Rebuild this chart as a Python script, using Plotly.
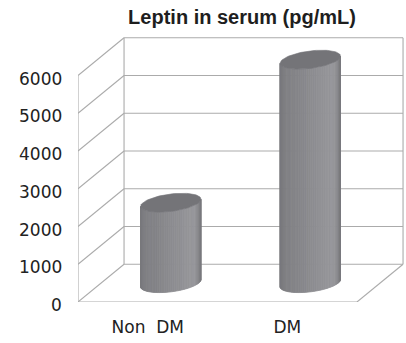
import numpy as np
import plotly.graph_objects as go

# Data
categories = ["Non\u00a0 DM", "DM"]
leptin = [2130, 5920]
tick_values = [0, 1000, 2000, 3000, 4000, 5000, 6000]
title_text = "Leptin in serum (pg/mL)"

# Oblique 3-D frame: depth vector in axis units
DEPTH_X = 0.33      # category units
DEPTH_Y = 1000      # value units
BAR_RX = 0.2        # cylinder radius across the category axis
BAR_DEPTH = 0.5     # cylinder diameter as a share of the full depth
FRAME = "#ababab"
N_STRIPS = 48
LABEL_FONT = dict(family="DejaVu Sans", size=17, color="#222222")

n_cat = len(categories)
ymax = tick_values[-1]

fig = go.Figure()


def seg(xs, ys):
    fig.add_trace(go.Scatter(x=xs, y=ys, mode="lines",
                             line=dict(color=FRAME, width=1.1),
                             hoverinfo="skip", showlegend=False, cliponaxis=False))


# back wall: gridlines and side edges
for v in tick_values:
    seg([DEPTH_X, n_cat + DEPTH_X], [v + DEPTH_Y, v + DEPTH_Y])
seg([DEPTH_X, DEPTH_X], [DEPTH_Y, ymax + DEPTH_Y])
seg([n_cat + DEPTH_X, n_cat + DEPTH_X], [DEPTH_Y, ymax + DEPTH_Y])
# left wall: diagonals and front edge
for v in tick_values:
    seg([0, DEPTH_X], [v, v + DEPTH_Y])
seg([0, 0], [0, ymax])
# floor: front and right edges
seg([0, n_cat], [0, 0])
seg([n_cat, n_cat + DEPTH_X], [0, DEPTH_Y])

# cylinder shading across the visible face (fraction -> grey level)
shade_u = [0.0, 0.12, 0.5, 0.8, 0.9, 0.96, 1.0]
shade_g = [120, 128, 139, 149, 150, 136, 121]

rdx = BAR_DEPTH / 2 * DEPTH_X
rdy = BAR_DEPTH / 2 * DEPTH_Y
theta_s = np.arctan2(rdx, BAR_RX)


def ring(cx, base, th):
    return (cx + BAR_RX * np.cos(th) + rdx * np.sin(th),
            base + rdy * np.sin(th))


for i, val in enumerate(leptin):
    cx = i + 0.5 + DEPTH_X / 2
    base = DEPTH_Y / 2
    top = val + DEPTH_Y / 2
    th = np.linspace(theta_s + np.pi, theta_s + 2 * np.pi, N_STRIPS + 1)
    xb, yb = ring(cx, base, th)
    xt, yt = ring(cx, top, th)
    xl, xr = xb.min(), xb.max()
    for k in range(N_STRIPS):
        um = ((xb[k] + xb[k + 1]) / 2 - xl) / (xr - xl)
        g = int(round(np.interp(um, shade_u, shade_g)))
        col = f"rgb({g},{g},{g + 4})"
        fig.add_trace(go.Scatter(
            x=[xb[k], xb[k + 1], xt[k + 1], xt[k], xb[k]],
            y=[yb[k], yb[k + 1], yt[k + 1], yt[k], yb[k]],
            mode="lines", fill="toself", fillcolor=col,
            line=dict(color=col, width=0.8),
            hoverinfo="skip", showlegend=False, cliponaxis=False))
    # top face
    tf = np.linspace(0, 2 * np.pi, 90)
    xe, ye = ring(cx, top, tf)
    fig.add_trace(go.Scatter(
        x=xe, y=ye, mode="lines", fill="toself", fillcolor="rgb(116,116,120)",
        line=dict(color="rgb(116,116,120)", width=0.6),
        hoverinfo="skip", showlegend=False, cliponaxis=False))

# value labels along the front edge of the left wall
annotations = [
    dict(x=0, y=v, xref="x", yref="y", text=str(v), showarrow=False,
         xanchor="right", yanchor="middle", xshift=-14, yshift=-3, font=LABEL_FONT)
    for v in tick_values
]

fig.update_layout(
    width=406, height=343,
    margin=dict(l=78, r=0, t=0, b=41),
    paper_bgcolor="white", plot_bgcolor="white",
    title=dict(text=f"<b>{title_text}</b>", x=0.5, xref="paper",
               y=1 - 17 / 343, yref="container", yanchor="middle",
               font=dict(family="Liberation Sans, Arial", size=20, color="#1e1e1e")),
    xaxis=dict(range=[0, (406 - 78) / 139.5], tickvals=[i + 0.5 for i in range(n_cat)],
               ticktext=categories, showgrid=False, zeroline=False, showline=False,
               ticks="", ticklabelstandoff=13, tickfont=LABEL_FONT),
    yaxis=dict(range=[0, 8000], showgrid=False, zeroline=False, showline=False,
               showticklabels=False, ticks=""),
    annotations=annotations,
)

fig.write_html("out.html")
